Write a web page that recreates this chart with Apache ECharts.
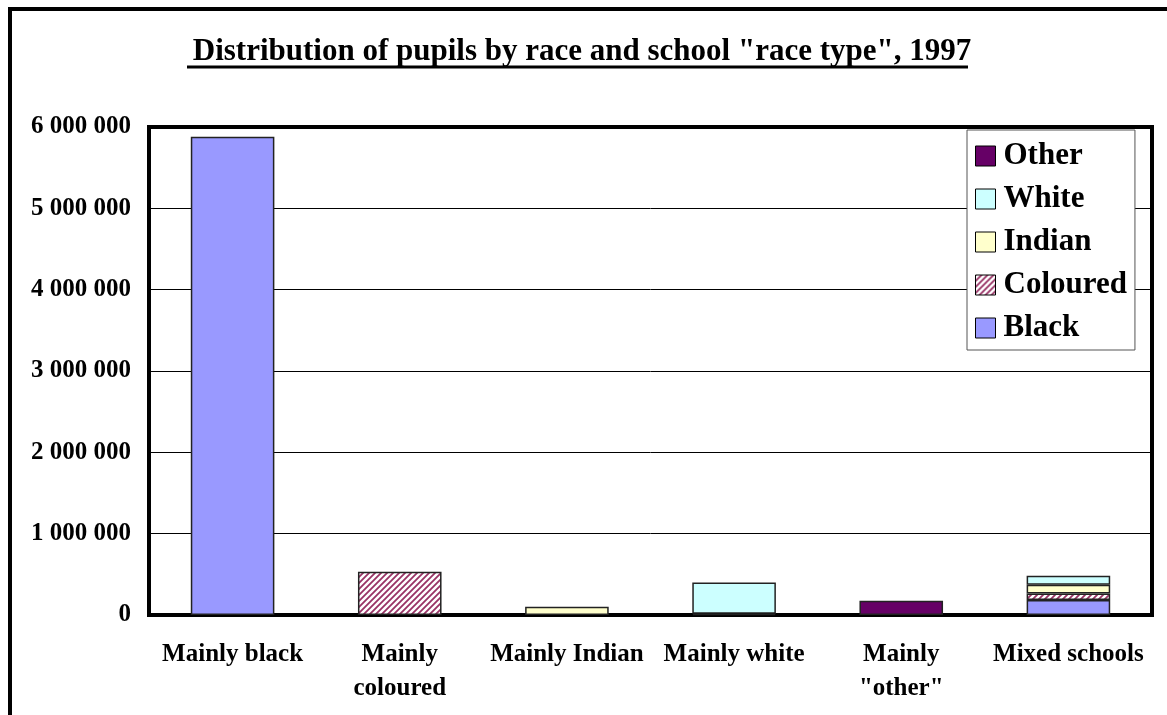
<!DOCTYPE html>
<html>
<head>
<meta charset="utf-8">
<script src="https://cdn.jsdelivr.net/npm/echarts@6/dist/echarts.min.js"></script>
<style>
  html, body { margin: 0; padding: 0; background: #fff; }
  #chart { width: 1167px; height: 715px; }
</style>
</head>
<body>
<div id="chart"></div>
<script>
const categories = ['Mainly black', 'Mainly\ncoloured', 'Mainly Indian', 'Mainly white', 'Mainly\n"other"', 'Mixed schools']
const blackVals = [5880000, null, null, 15000, null, 185000]
const colouredVals = [null, 533000, null, null, null, 78000]
const indianVals = [null, null, 100000, null, null, 110000]
const whiteVals = [null, null, null, 385000, null, 111000]
const otherVals = [null, null, null, null, 176000, null]
const yTicks = [0, 1000000, 2000000, 3000000, 4000000, 5000000, 6000000]

const serif = '"Times New Roman", "Liberation Serif", serif'

// diagonal hatch for the Coloured series
const hatch = document.createElement('canvas')
hatch.width = 6
hatch.height = 6
const hctx = hatch.getContext('2d')
hctx.fillStyle = '#fff'
hctx.fillRect(0, 0, 6, 6)
hctx.strokeStyle = '#993366'
hctx.lineWidth = 1.8
hctx.beginPath()
hctx.moveTo(-1, 7); hctx.lineTo(7, -1)
hctx.moveTo(-4, 4); hctx.lineTo(4, -4)
hctx.moveTo(2, 10); hctx.lineTo(10, 2)
hctx.stroke()

const fmt = v => String(v).replace(/\B(?=(\d{3})+(?!\d))/g, ' ')

const mk = (name, data, color) => ({
  name, type: 'bar', stack: 'total', data,
  barWidth: '50%',
  itemStyle: { color, borderColor: '#222', borderWidth: 1.5 }
})

const chart = echarts.init(document.getElementById('chart'))
chart.setOption({
  animation: false,
  textStyle: { fontFamily: serif },
  title: {
    text: 'Distribution of pupils by race and school "race type", 1997',
    left: 577, top: 31, textAlign: 'center',
    textStyle: { fontFamily: serif, fontWeight: 'bold', fontSize: 31, color: '#000' }
  },
  graphic: [
    { type: 'rect', shape: { x: 10, y: 9, width: 1300, height: 900 }, style: { fill: 'none', stroke: '#000', lineWidth: 4 }, silent: true },
    { type: 'line', shape: { x1: 187, y1: 67, x2: 968, y2: 67 }, style: { stroke: '#000', lineWidth: 3 }, silent: true }
  ],
  legend: {
    orient: 'vertical',
    left: 967, top: 130,
    data: ['Other', 'White', 'Indian', 'Coloured', 'Black'],
    backgroundColor: '#fff',
    borderColor: '#555', borderWidth: 1,
    padding: [10, 8, 6, 8],
    itemWidth: 20, itemHeight: 20, itemGap: 11,
    icon: 'rect',
    itemStyle: { borderColor: '#000', borderWidth: 1 },
    textStyle: { fontFamily: serif, fontWeight: 'bold', fontSize: 31, lineHeight: 32, color: '#000', padding: [0, 0, 0, 3] }
  },
  grid: { left: 149, right: 15, top: 127, bottom: 100, show: true, borderColor: '#000', borderWidth: 4, backgroundColor: 'transparent' },
  xAxis: {
    type: 'category', data: categories,
    axisLine: { lineStyle: { color: '#000', width: 4 } },
    axisTick: { show: false },
    axisLabel: { margin: 23, fontFamily: serif, fontWeight: 'bold', fontSize: 25, color: '#000', lineHeight: 34, interval: 0 }
  },
  yAxis: {
    type: 'value', min: yTicks[0], max: yTicks[yTicks.length - 1], interval: 1000000,
    axisLine: { show: true, lineStyle: { color: '#000', width: 4 } },
    axisTick: { show: false },
    splitLine: { lineStyle: { color: '#000', width: 1 } },
    axisLabel: { margin: 18, fontFamily: serif, fontWeight: 'bold', fontSize: 25, color: '#000', formatter: fmt }
  },
  series: [
    mk('Black', blackVals, '#9999ff'),
    mk('Coloured', colouredVals, { image: hatch, repeat: 'repeat' }),
    mk('Indian', indianVals, '#ffffcc'),
    mk('White', whiteVals, '#ccffff'),
    mk('Other', otherVals, '#660066')
  ]
})
</script>
</body>
</html>
